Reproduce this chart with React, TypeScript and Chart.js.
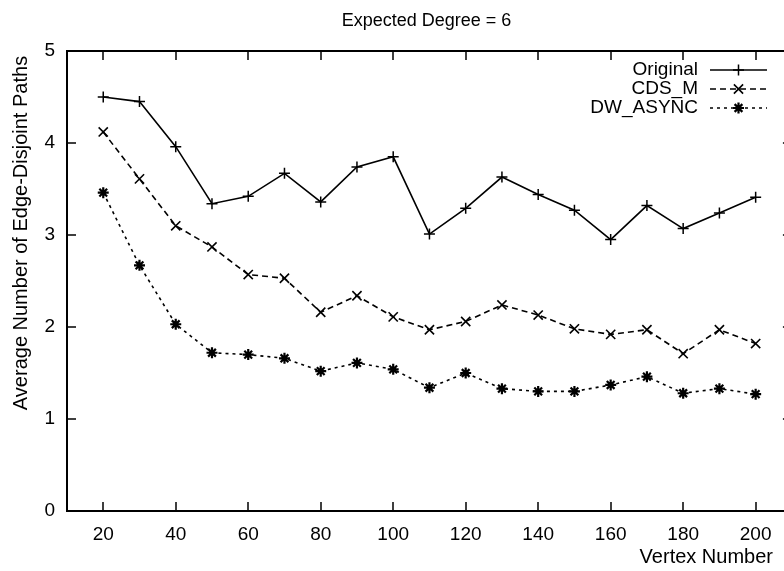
import { useEffect, useRef } from 'react';
import { Chart, registerables } from 'chart.js';

Chart.register(...registerables);

const vertexNumbers = [20, 30, 40, 50, 60, 70, 80, 90, 100, 110, 120, 130, 140, 150, 160, 170, 180, 190, 200];
const original = [4.5, 4.45, 3.96, 3.34, 3.42, 3.67, 3.36, 3.74, 3.85, 3.01, 3.29, 3.63, 3.44, 3.27, 2.95, 3.32, 3.07, 3.24, 3.41];
const cdsM = [4.12, 3.61, 3.1, 2.87, 2.57, 2.53, 2.16, 2.34, 2.11, 1.97, 2.06, 2.24, 2.13, 1.98, 1.92, 1.97, 1.71, 1.97, 1.82];
const dwAsync = [3.46, 2.67, 2.03, 1.72, 1.7, 1.66, 1.52, 1.61, 1.54, 1.34, 1.5, 1.33, 1.3, 1.3, 1.37, 1.46, 1.28, 1.33, 1.27];
const xTicks = [20, 40, 60, 80, 100, 120, 140, 160, 180, 200];
const yTicks = [0, 1, 2, 3, 4, 5];
const seriesNames = ['Original', 'CDS_M', 'DW_ASYNC'];
const titleText = 'Expected Degree = 6';
const xTitle = 'Vertex Number';
const yTitle = 'Average Number of Edge-Disjoint Paths';

const FONT = '"Liberation Sans", Arial, Helvetica, sans-serif';

const seriesStyles = [
  { dash: [] as number[], marker: 'cross', radius: 5.5, mw: 1.5 },
  { dash: [6, 4], marker: 'crossRot', radius: 6.5, mw: 1.6 },
  { dash: [3, 4], marker: 'star', radius: 5.5, mw: 2.2 },
];

function drawMarker(ctx: CanvasRenderingContext2D, type: string, x: number, y: number, r: number) {
  ctx.beginPath();
  if (type === 'cross' || type === 'star') {
    ctx.moveTo(x - r, y);
    ctx.lineTo(x + r, y);
    ctx.moveTo(x, y - r);
    ctx.lineTo(x, y + r);
  }
  if (type === 'crossRot' || type === 'star') {
    const d = r * 0.7071;
    ctx.moveTo(x - d, y - d);
    ctx.lineTo(x + d, y + d);
    ctx.moveTo(x - d, y + d);
    ctx.lineTo(x + d, y - d);
  }
  ctx.stroke();
}

const framePlugin = {
  id: 'gnuframe',
  beforeDatasetsDraw(chart: any) {
    const { ctx, chartArea: a, scales } = chart;
    ctx.save();
    ctx.strokeStyle = '#000';
    ctx.lineWidth = 2;
    ctx.setLineDash([]);
    ctx.strokeRect(a.left, a.top, a.right - a.left, a.bottom - a.top);
    ctx.lineWidth = 1.5;
    const tl = 9;
    ctx.beginPath();
    xTicks.forEach((v) => {
      const px = Math.round(scales.x.getPixelForValue(v));
      ctx.moveTo(px, a.bottom);
      ctx.lineTo(px, a.bottom - tl);
      ctx.moveTo(px, a.top);
      ctx.lineTo(px, a.top + tl);
    });
    yTicks.forEach((v) => {
      const py = Math.round(scales.y.getPixelForValue(v));
      ctx.moveTo(a.left, py);
      ctx.lineTo(a.left + tl, py);
      ctx.moveTo(a.right, py);
      ctx.lineTo(a.right - tl, py);
    });
    ctx.stroke();

    ctx.fillStyle = '#000';
    ctx.font = `18px ${FONT}`;
    ctx.textAlign = 'center';
    ctx.textBaseline = 'middle';
    ctx.fillText(titleText, (a.left + a.right) / 2 - 3, 21);

    ctx.font = `20px ${FONT}`;
    ctx.textAlign = 'right';
    ctx.fillText(xTitle, 773, 557);

    ctx.save();
    ctx.translate(21, 233);
    ctx.rotate(-Math.PI / 2);
    ctx.textAlign = 'center';
    ctx.fillText(yTitle, 0, 0);
    ctx.restore();
    ctx.restore();
  },
  afterDatasetsDraw(chart: any) {
    const { ctx } = chart;
    ctx.save();
    ctx.fillStyle = '#000';
    ctx.strokeStyle = '#000';
    ctx.font = `19px ${FONT}`;
    ctx.textAlign = 'right';
    ctx.textBaseline = 'middle';
    const rows = [70, 89, 108];
    seriesNames.forEach((name, i) => {
      const y = rows[i];
      const st = seriesStyles[i];
      ctx.fillText(name, 698, y);
      ctx.lineWidth = 1.5;
      ctx.setLineDash(st.dash);
      ctx.beginPath();
      ctx.moveTo(710, y);
      ctx.lineTo(767, y);
      ctx.stroke();
      ctx.setLineDash([]);
      ctx.lineWidth = st.mw;
      drawMarker(ctx, st.marker, 738.5, y, st.radius);
    });
    ctx.restore();
  },
};

export default function App() {
  const ref = useRef<HTMLCanvasElement | null>(null);

  useEffect(() => {
    document.body.style.overflow = 'hidden';
    const canvas = ref.current;
    if (!canvas) return;
    const seriesData = [original, cdsM, dwAsync];
    const chart = new Chart(canvas, {
      type: 'line',
      data: {
        datasets: seriesNames.map((name, i) => ({
          label: name,
          data: vertexNumbers.map((x, j) => ({ x, y: seriesData[i][j] })),
          borderColor: '#000',
          backgroundColor: '#000',
          borderWidth: 1.6,
          borderDash: seriesStyles[i].dash,
          pointStyle: seriesStyles[i].marker as any,
          pointRadius: seriesStyles[i].radius,
          pointBorderWidth: seriesStyles[i].mw,
          pointBorderColor: '#000',
          pointBackgroundColor: '#000',
          tension: 0,
          fill: false,
        })),
      },
      options: {
        animation: false,
        responsive: false,
        devicePixelRatio: 1,
        layout: { padding: { top: 51, left: 0, right: 8, bottom: 0 } },
        plugins: {
          legend: { display: false },
          title: { display: false },
          tooltip: { enabled: false },
        },
        scales: {
          x: {
            type: 'linear',
            min: 10,
            max: 210,
            grid: { display: false, drawTicks: false },
            border: { display: false },
            afterBuildTicks: (scale: any) => {
              scale.ticks = xTicks.map((v) => ({ value: v }));
            },
            afterFit: (scale: any) => {
              scale.height = 60;
            },
            ticks: {
              autoSkip: false,
              maxRotation: 0,
              padding: 12,
              color: '#000',
              font: { family: FONT, size: 19 },
            },
          },
          y: {
            type: 'linear',
            min: 0,
            max: 5,
            grid: { display: false, drawTicks: false },
            border: { display: false },
            afterBuildTicks: (scale: any) => {
              scale.ticks = yTicks.map((v) => ({ value: v }));
            },
            afterFit: (scale: any) => {
              scale.width = 67;
            },
            ticks: {
              padding: 12,
              color: '#000',
              font: { family: FONT, size: 19 },
            },
          },
        },
      },
      plugins: [framePlugin],
    });
    return () => chart.destroy();
  }, []);

  return (
    <div style={{ position: 'fixed', left: 0, top: 0, width: 800, height: 571, overflow: 'hidden', background: '#fff' }}>
      <canvas ref={ref} width={800} height={571} style={{ display: 'block' }} />
    </div>
  );
}
